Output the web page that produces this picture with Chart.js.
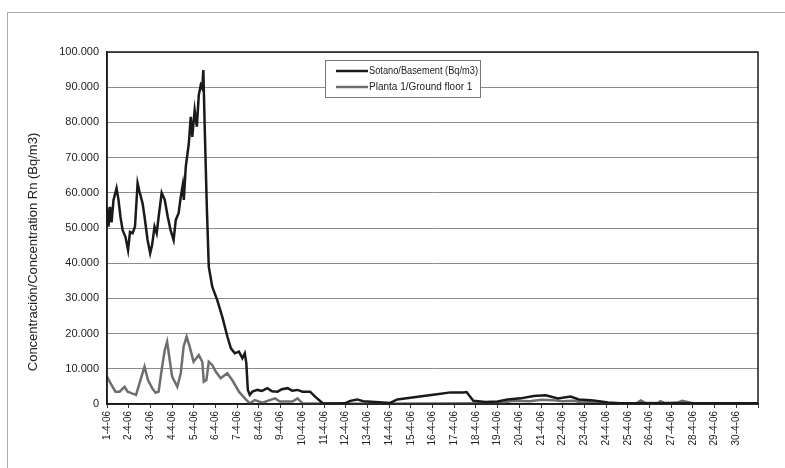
<!DOCTYPE html>
<html>
<head>
<meta charset="utf-8">
<script src="https://cdn.jsdelivr.net/npm/chart.js@4.4.1/dist/chart.umd.min.js"></script>
<style>
  html, body { margin: 0; padding: 0; background: #fff; }
  #wrap { position: relative; width: 785px; height: 468px; }
  #frame { position: absolute; left: 7px; top: 12px; right: 0; bottom: 0; border-left: 1px solid #aaa; border-top: 1px solid #aaa; pointer-events: none; }
  canvas { position: absolute; left: 0; top: 0; }
</style>
</head>
<body>
<div id="wrap">
  <canvas id="c" width="785" height="468"></canvas>
  <div id="frame"></div>
</div>
<script>
// ---- DATA (days since 1-4-06 00:00, concentration Bq/m3) ----
const dayLabels = ["1-4-06","2-4-06","3-4-06","4-4-06","5-4-06","6-4-06","7-4-06","8-4-06","9-4-06","10-4-06",
  "11-4-06","12-4-06","13-4-06","14-4-06","15-4-06","16-4-06","17-4-06","18-4-06","19-4-06","20-4-06",
  "21-4-06","22-4-06","23-4-06","24-4-06","25-4-06","26-4-06","27-4-06","28-4-06","29-4-06","30-4-06"];

const basementName = "Sotano/Basement (Bq/m3)";
const basementDays = [0.00,0.07,0.14,0.21,0.30,0.44,0.53,0.62,0.72,0.85,0.97,1.06,1.18,1.29,1.41,1.50,1.64,1.73,1.87,1.99,
  2.08,2.19,2.29,2.38,2.52,2.66,2.80,2.93,3.07,3.17,3.30,3.40,3.49,3.54,3.63,3.77,3.86,3.93,4.04,4.14,
  4.23,4.32,4.39,4.44,4.51,4.60,4.69,4.85,5.08,5.31,5.55,5.71,5.89,6.08,6.24,6.35,6.42,6.49,6.58,6.70,
  6.93,7.14,7.39,7.60,7.86,8.06,8.32,8.53,8.78,9.01,9.36,9.59,9.94,10.5,10.97,11.21,11.53,11.81,12.36,13.05,
  13.38,13.98,14.58,15.21,15.83,16.43,16.57,16.88,17.44,18.0,18.46,19.06,19.66,20.22,20.77,21.37,21.74,22.30,22.76,23.08,
  23.68,25.0,27.0,30.0];
const basementValues = [56000,50400,56000,51600,58000,61300,58000,53200,49400,47500,43700,48900,48500,50400,62700,60300,57000,53200,46600,42800,
  45200,50400,48500,53200,60000,58000,53200,49400,46600,52300,54200,58900,62200,58000,67400,74000,81600,75900,83500,78800,
  87800,90600,89700,94900,76900,56000,39000,33300,29500,24800,19100,15800,14400,14900,13000,14400,11600,4000,2600,3500,
  4000,3700,4500,3600,3500,4200,4500,3800,4000,3500,3500,2100,200,150,200,900,1300,800,600,300,
  1300,1800,2300,2800,3300,3300,3400,900,600,700,1300,1600,2300,2500,1600,2100,1300,1100,700,400,
  200,200,200,200];

const floorName = "Planta 1/Ground floor 1";
const floorDays = [0.00,0.16,0.39,0.58,0.81,0.95,1.15,1.34,1.50,1.73,1.89,2.08,2.24,2.38,2.54,2.66,2.77,2.89,3.00,3.24,
  3.40,3.53,3.67,3.81,3.99,4.23,4.39,4.46,4.58,4.69,4.85,5.01,5.24,5.54,5.77,6.08,6.35,6.58,6.81,7.16,
  7.74,7.97,8.55,8.78,9.01,12.0,17.5,18.2,18.7,19.5,20.0,20.5,21.0,21.5,21.9,22.5,23.0,24.4,24.6,24.8,
  25.4,25.5,25.7,26.3,26.5,26.8,27.1,30.0];
const floorValues = [7800,5900,3500,3500,4900,3500,3000,2600,5900,10600,6800,4500,3200,3500,10600,15300,17700,12500,7800,4900,
  8700,16300,19100,16300,12000,13900,12000,6300,6800,12000,11100,9200,7300,8700,6800,3500,1600,200,1100,400,
  1600,700,700,1600,200,100,200,300,900,800,1200,1100,800,900,400,700,200,200,1000,300,
  300,800,300,400,900,500,100,100];

const yTicks = [0,10000,20000,30000,40000,50000,60000,70000,80000,90000,100000];
const yTitle = "Concentración/Concentration Rn (Bq/m3)";

// ---- build ----
const toPts = (xs, ys) => xs.map((x, i) => ({ x: x, y: ys[i] }));
const FONT = "'Liberation Sans', Arial, sans-serif";

const framePlugin = {
  id: 'framePlugin',
  afterDatasetsDraw(chart) {
    const { ctx, chartArea: a } = chart;
    ctx.save();
    ctx.strokeStyle = '#1a1a1a';
    ctx.lineWidth = 1.5;
    ctx.strokeRect(a.left, a.top, a.right - a.left, a.bottom - a.top);
    ctx.restore();
  },
  afterDraw(chart) {
    const { ctx } = chart;
    // y axis title
    ctx.save();
    ctx.translate(33, 252);
    ctx.rotate(-Math.PI / 2);
    ctx.fillStyle = '#222';
    ctx.font = "13px " + FONT;
    ctx.textAlign = 'center';
    ctx.textBaseline = 'middle';
    ctx.fillText(yTitle, 0, 0);
    ctx.restore();
    // legend box
    ctx.save();
    ctx.fillStyle = '#fff';
    ctx.fillRect(325.5, 60.5, 155, 37);
    ctx.strokeStyle = '#777';
    ctx.lineWidth = 1;
    ctx.strokeRect(325.5, 60.5, 155, 37);
    const rows = [[basementName, '#1a1a1a', 71, 109], [floorName, '#6e6e6e', 87, 106]];
    rows.forEach(([name, col, y, w]) => {
      ctx.strokeStyle = col;
      ctx.lineWidth = 2.5;
      ctx.beginPath();
      ctx.moveTo(336, y);
      ctx.lineTo(368, y);
      ctx.stroke();
      ctx.fillStyle = '#222';
      ctx.font = "10px " + FONT;
      ctx.textAlign = 'left';
      ctx.textBaseline = 'middle';
      const tw = ctx.measureText(name).width;
      const sx = Math.min(1, w / tw);
      ctx.save();
      ctx.translate(369, y);
      ctx.scale(sx, 1);
      ctx.fillText(name, 0, 0);
      ctx.restore();
    });
    ctx.restore();
  }
};

new Chart(document.getElementById('c'), {
  type: 'line',
  data: {
    datasets: [
      { label: basementName, data: toPts(basementDays, basementValues), borderColor: '#1a1a1a', borderWidth: 2.5, pointRadius: 0, tension: 0, fill: false },
      { label: floorName, data: toPts(floorDays, floorValues), borderColor: '#6e6e6e', borderWidth: 2.5, pointRadius: 0, tension: 0, fill: false }
    ]
  },
  options: {
    responsive: false,
    animation: false,
    events: [],
    layout: { padding: { left: 0, right: 27, top: 52, bottom: 0 } },
    plugins: { legend: { display: false }, tooltip: { enabled: false } },
    scales: {
      x: {
        type: 'linear', min: 0, max: 30,
        afterFit(s) { s.height = 64; },
        afterBuildTicks(s) { s.ticks = dayLabels.map((_, i) => ({ value: i })).concat([{ value: 30 }]); },
        ticks: {
          autoSkip: false, maxRotation: 90, minRotation: 90, padding: 3,
          color: '#222', font: { family: FONT, size: 10 },
          callback: (v) => (v < dayLabels.length ? dayLabels[v] : '')
        },
        grid: { drawOnChartArea: false, drawTicks: true, tickLength: 4, color: '#333' },
        border: { color: '#1a1a1a', width: 1.5 }
      },
      y: {
        min: 0, max: 100000,
        afterFit(s) { s.width = 107; },
        afterBuildTicks(s) { s.ticks = yTicks.map(v => ({ value: v })); },
        ticks: {
          color: '#222', padding: 8, font: { family: FONT, size: 11 },
          callback: (v) => v === 0 ? '0' : v.toLocaleString('de-DE')
        },
        grid: { color: '#8c8c8c', lineWidth: 1, drawTicks: false },
        border: { color: '#1a1a1a', width: 1.5 }
      }
    }
  },
  plugins: [framePlugin]
});
</script>
</body>
</html>
